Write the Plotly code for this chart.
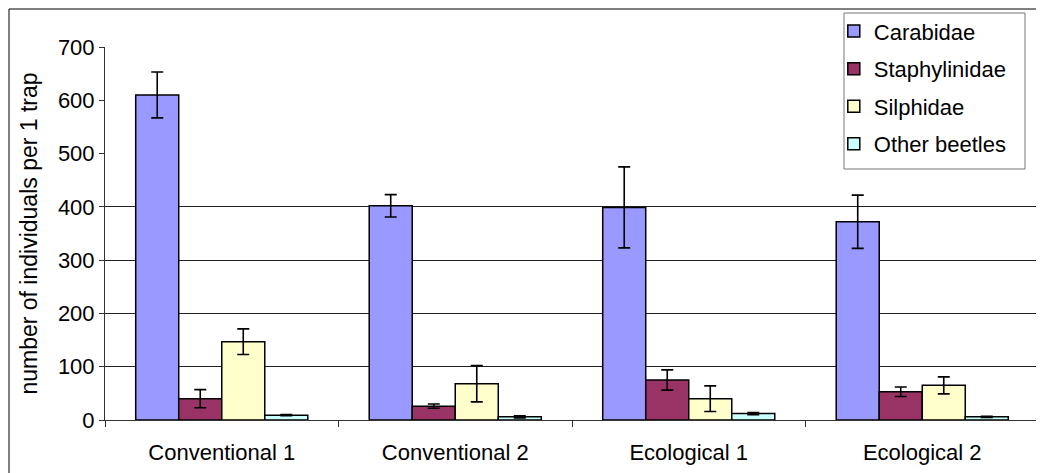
import plotly.graph_objects as go

categories = ["Conventional 1", "Conventional 2", "Ecological 1", "Ecological 2"]
series_names = ["Carabidae", "Staphylinidae", "Silphidae", "Other beetles"]
carabidae = [610, 402, 399, 372]
carabidae_err = [43, 21, 76, 50]
staphylinidae = [40, 26, 75, 53]
staphylinidae_err = [17, 4, 19, 9]
silphidae = [147, 68, 40, 65]
silphidae_err = [24, 34, 24, 16]
other = [9, 6, 12, 6]
other_err = [1, 2, 2, 1]
colors = ["#9999FF", "#993366", "#FFFFCC", "#CCFFFF"]
y_ticks = [0, 100, 200, 300, 400, 500, 600, 700]
grid_ticks = [100, 200, 300, 400]

values = [carabidae, staphylinidae, silphidae, other]
errors = [carabidae_err, staphylinidae_err, silphidae_err, other_err]

fig = go.Figure()
for i, (name, v, e, c) in enumerate(zip(series_names, values, errors, colors)):
    fig.add_trace(go.Bar(
        x=categories, y=v, name=name, legendgroup=name,
        marker=dict(color=c, line=dict(color="black", width=1.5)),
        error_y=dict(type="data", array=e, color="black", thickness=1.6, width=6),
    ))

# gridline carrier trace on overlay axis
fig.add_trace(go.Scatter(x=[None], y=[None], yaxis="y2", showlegend=False, hoverinfo="skip"))

fig.update_layout(
    width=1044, height=473,
    margin=dict(l=97, r=13, t=39, b=61, autoexpand=False),
    paper_bgcolor="white", plot_bgcolor="white",
    font=dict(family="Liberation Sans, Arial, sans-serif", size=22, color="black"),
    barmode="group", bargap=0.263, bargroupgap=0,
    showlegend=True,
    legend=dict(
        x=0.7803, y=1.0985, xanchor="left", yanchor="top",
        bgcolor="rgba(0,0,0,0)", borderwidth=0,
        font=dict(size=22), tracegroupgap=6, traceorder="grouped",
        itemwidth=30,
    ),
    xaxis=dict(
        showline=True, linecolor="#333333", linewidth=1,
        ticks="outside", ticklen=6, tickcolor="#333333", tickson="boundaries",
        showgrid=False, tickfont=dict(size=22), ticklabelstandoff=13,
    ),
    yaxis=dict(
        range=[0, 700], tickvals=y_ticks, showline=True, linecolor="#333333", linewidth=1,
        ticks="outside", ticklen=5, tickcolor="#333333", showgrid=False, zeroline=False,
        tickfont=dict(size=22),
        title=dict(text="number of individuals per 1 trap", font=dict(size=23), standoff=13),
    ),
    yaxis2=dict(
        range=[0, 700], overlaying="y", tickvals=grid_ticks, showticklabels=False,
        showgrid=True, gridcolor="#222222", gridwidth=1, zeroline=False, showline=False,
    ),
)

# legend frame
fig.add_shape(type="rect", xref="paper", yref="paper", layer="below",
              x0=(844 - 105) / 934, x1=(1025 - 105) / 934,
              y0=(420 - 169) / 373, y1=(420 - 13) / 373,
              fillcolor="white", line=dict(color="#777777", width=1))
# outer chart frame and plot-area right edge
fig.add_shape(type="line", xref="paper", yref="paper", x0=(9 - 105) / 934, x1=1.2,
              y0=(420 - 9) / 373, y1=(420 - 9) / 373, line=dict(color="black", width=1))
fig.add_shape(type="line", xref="paper", yref="paper", x0=(9 - 105) / 934, x1=(9 - 105) / 934,
              y0=(420 - 9) / 373, y1=-0.3, line=dict(color="black", width=1))
fig.add_shape(type="line", xref="paper", yref="paper", x0=1, x1=1, y0=0, y1=1,
              line=dict(color="#888888", width=1))

fig.write_html("out.html")
